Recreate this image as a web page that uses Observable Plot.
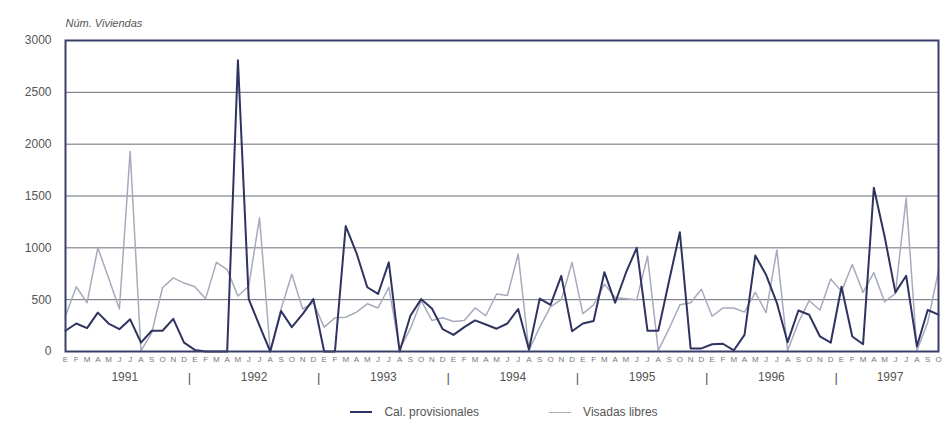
<!DOCTYPE html>
<html><head><meta charset="utf-8">
<script src="https://cdn.jsdelivr.net/npm/d3@7"></script>
<script src="https://cdn.jsdelivr.net/npm/@observablehq/plot@0.6"></script>
<style>
body{margin:0;background:#fff;font-family:"Liberation Sans",Arial,sans-serif;}
#legend{display:flex;justify-content:center;gap:70px;font-size:12px;color:#555;margin-top:10px;margin-left:60px}
#legend span{display:inline-flex;align-items:center;gap:12px}
#legend i{display:inline-block;width:22px;height:0;border-top:2px solid}
</style></head><body>
<div id="chart"></div>
<div id="legend"><span><i style="border-color:#2e3360"></i>Cal. provisionales</span><span><i style="border-color:#a9a9bd;border-top-width:1.5px"></i>Visadas libres</span></div>
<script>
const years = ["1991","1992","1993","1994","1995","1996","1997"];
const yearCenterIdx = [5.5,17.5,29.5,41.5,53.5,65.5,76.5];
const yearSepIdx = [11.5,23.5,35.5,47.5,59.5,71.5];
const monthLetters = ["E","F","M","A","M","J","J","A","S","O","N","D"];
const calProvisionales = [
 200,270,225,375,270,215,310,85,200,200,315,85,
 15,0,0,0,2810,505,250,0,390,235,360,505,
 0,0,1210,950,620,555,860,0,345,505,415,215,
 160,235,300,260,220,270,410,20,510,450,730,195,
 270,295,765,470,760,1000,200,200,680,1150,30,30,
 70,75,10,160,925,740,470,90,395,355,145,85,
 625,145,70,1580,1110,570,730,50,400,355];
const visadasLibres = [
 345,625,470,1000,710,410,1930,5,180,615,710,660,
 625,510,860,790,535,630,1290,5,410,745,410,470,
 235,325,330,380,460,420,620,20,220,490,300,325,
 290,300,420,345,555,540,940,10,235,430,500,860,
 365,450,650,520,510,500,920,10,220,450,470,600,
 340,420,420,380,570,375,980,10,280,490,400,700,
 580,840,570,760,480,560,1480,10,280,780];
const yTicks = [0,500,1000,1500,2000,2500,3000];

const n = calProvisionales.length;
const rows = calProvisionales.map((c,i)=>({i, cal:c, vis:visadasLibres[i]}));
const yearRows = years.map((y,k)=>({y, i:yearCenterIdx[k]}));

const plot = Plot.plot({
  width:948, height:395,
  marginLeft:65, marginRight:10, marginTop:40, marginBottom:44,
  style:{fontFamily:"Liberation Sans, Arial, sans-serif", fontSize:"12px", color:"#555", background:"#fff"},
  x:{domain:[0,n-1], axis:null, label:null},
  y:{domain:[0,3000], axis:null, label:null},
  marks:[
    Plot.ruleY(yTicks.slice(1,-1), {stroke:"#6a6a78", strokeWidth:1}),
    Plot.line(rows, {x:"i", y:"vis", stroke:"#a9a9bd", strokeWidth:1.5}),
    Plot.line(rows, {x:"i", y:"cal", stroke:"#2e3360", strokeWidth:2}),
    Plot.frame({stroke:"#3a3f6a", strokeWidth:2}),
    Plot.axisY(yTicks, {tickSize:0, tickPadding:14, fontSize:12, fill:"#555", label:null, tickFormat:d3.format("d")}),
    Plot.axisX(d3.range(n), {tickSize:0, tickPadding:5, fontSize:8, fill:"#777", label:null, tickFormat:i=>monthLetters[i%12]}),
    Plot.text(yearRows, {x:"i", text:"y", frameAnchor:"bottom", dy:29, fontSize:12, fill:"#555"}),
    Plot.text(yearSepIdx, {x:d=>d, text:()=>"|", frameAnchor:"bottom", dy:30, fontSize:13, fill:"#555"}),
    Plot.text(["Núm. Viviendas"], {frameAnchor:"top-left", dy:-21, fontStyle:"italic", fontSize:11, fill:"#555", textAnchor:"start"})
  ]
});
document.getElementById("chart").appendChild(plot);
</script></body></html>
